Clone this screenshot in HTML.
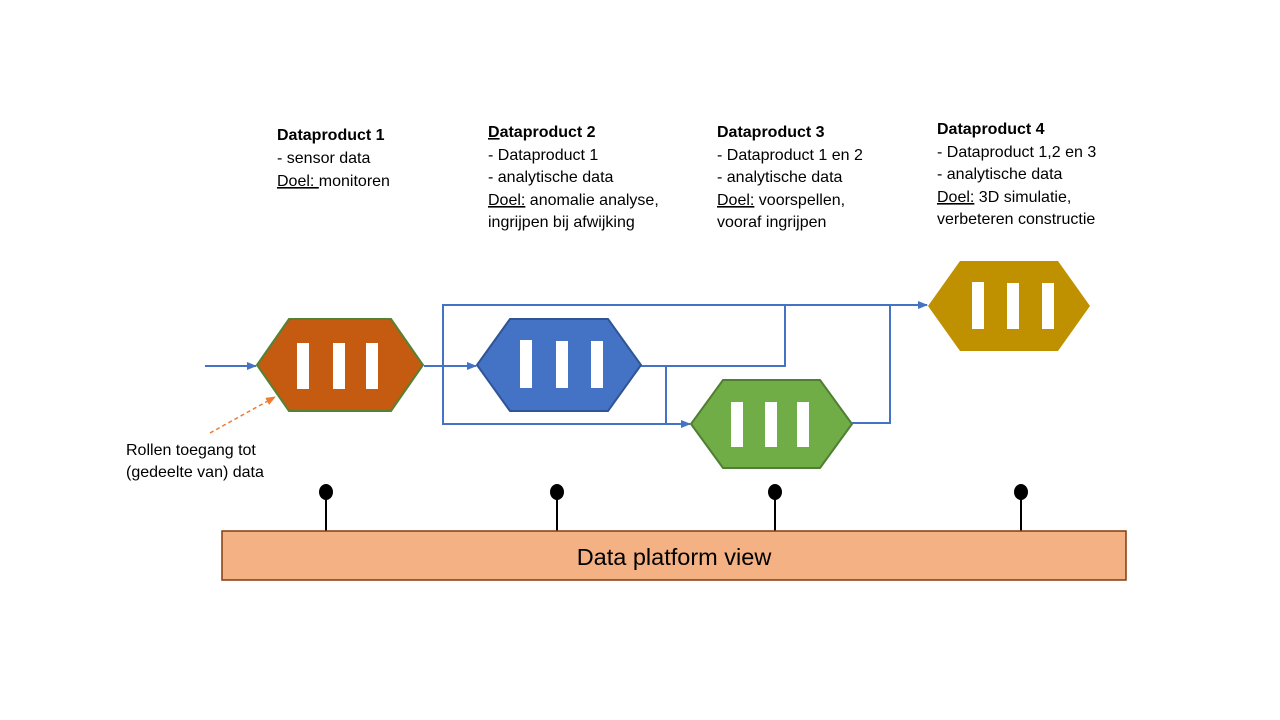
<!DOCTYPE html>
<html><head><meta charset="utf-8"><style>
html,body{margin:0;padding:0;background:#fff;}
svg{display:block;font-family:"Liberation Sans",sans-serif;}
</style></head><body>
<svg width="1280" height="720" viewBox="0 0 1280 720" xmlns="http://www.w3.org/2000/svg">
<defs>
<marker id="a" markerWidth="10" markerHeight="8" refX="9" refY="4" orient="auto" markerUnits="userSpaceOnUse"><path d="M0,0 L10,4 L0,8 Z" fill="#4472c4"/></marker>
<marker id="o" markerWidth="10" markerHeight="8" refX="9" refY="4" orient="auto" markerUnits="userSpaceOnUse"><path d="M0,0 L10,4 L0,8 Z" fill="#ed7d31"/></marker>
</defs>
<g font-size="16" fill="#000">
<text x="277" y="140" font-weight="bold">Dataproduct 1</text>
<text x="277" y="163">- sensor data</text>
<text x="277" y="186"><tspan text-decoration="underline">Doel: </tspan>monitoren</text>

<text x="488" y="137" font-weight="bold"><tspan text-decoration="underline">D</tspan>ataproduct 2</text>
<text x="488" y="160">- Dataproduct 1</text>
<text x="488" y="182">- analytische data</text>
<text x="488" y="205"><tspan text-decoration="underline">Doel:</tspan> anomalie analyse,</text>
<text x="488" y="227">ingrijpen bij afwijking</text>

<text x="717" y="137" font-weight="bold">Dataproduct 3</text>
<text x="717" y="160">- Dataproduct 1 en 2</text>
<text x="717" y="182">- analytische data</text>
<text x="717" y="205"><tspan text-decoration="underline">Doel:</tspan> voorspellen,</text>
<text x="717" y="227">vooraf ingrijpen</text>

<text x="937" y="134" font-weight="bold">Dataproduct 4</text>
<text x="937" y="157">- Dataproduct 1,2 en 3</text>
<text x="937" y="179">- analytische data</text>
<text x="937" y="202"><tspan text-decoration="underline">Doel:</tspan> 3D simulatie,</text>
<text x="937" y="224">verbeteren constructie</text>

<text x="126" y="455">Rollen toegang tot</text>
<text x="126" y="477">(gedeelte van) data</text>
</g>
<g stroke="#4472c4" stroke-width="2" fill="none">
<line x1="205" y1="366" x2="256" y2="366" marker-end="url(#a)"/>
<line x1="424" y1="366" x2="476" y2="366" marker-end="url(#a)"/>
<polyline points="443,366 443,305 927,305" marker-end="url(#a)"/>
<polyline points="443,366 443,424 690,424" marker-end="url(#a)"/>
<polyline points="641,366 785,366 785,305"/>
<polyline points="666,366 666,424"/>
<polyline points="852,423 890,423 890,305"/>
</g>
<line x1="210" y1="433" x2="275" y2="397" stroke="#ed7d31" stroke-width="1.5" stroke-dasharray="4,3" marker-end="url(#o)"/>
<polygon points="257,365 289,319 391,319 423,365 391,411 289,411" fill="#c55a11" stroke="#548235" stroke-width="2"/>
<polygon points="477,365 510,319 608,319 641,365 608,411 510,411" fill="#4472c4" stroke="#2f5597" stroke-width="2"/>
<polygon points="691,424 723,380 820,380 852,424 820,468 723,468" fill="#70ad47" stroke="#507e32" stroke-width="2"/>
<polygon points="928,306 960,261 1058,261 1090,306 1058,351 960,351" fill="#bf9000"/>
<g fill="#fff">
<rect x="297" y="343" width="12" height="46"/><rect x="333" y="343" width="12" height="46"/><rect x="366" y="343" width="12" height="46"/>
<rect x="520" y="340" width="12" height="48"/><rect x="556" y="341" width="12" height="47"/><rect x="591" y="341" width="12" height="47"/>
<rect x="731" y="402" width="12" height="45"/><rect x="765" y="402" width="12" height="45"/><rect x="797" y="402" width="12" height="45"/>
<rect x="972" y="282" width="12" height="47"/><rect x="1007" y="283" width="12" height="46"/><rect x="1042" y="283" width="12" height="46"/>
</g>
<g stroke="#000" stroke-width="2">
<line x1="326" y1="492" x2="326" y2="531"/><line x1="557" y1="492" x2="557" y2="531"/>
<line x1="775" y1="492" x2="775" y2="531"/><line x1="1021" y1="492" x2="1021" y2="531"/>
</g>
<g fill="#000">
<ellipse cx="326" cy="492" rx="7" ry="8"/><ellipse cx="557" cy="492" rx="7" ry="8"/>
<ellipse cx="775" cy="492" rx="7" ry="8"/><ellipse cx="1021" cy="492" rx="7" ry="8"/>
</g>
<rect x="222" y="531" width="904" height="49" fill="#f4b183" stroke="#843c0c" stroke-width="1.5"/>
<text x="674" y="565" font-size="23.5" text-anchor="middle" fill="#000">Data platform view</text>
</svg>
</body></html>
